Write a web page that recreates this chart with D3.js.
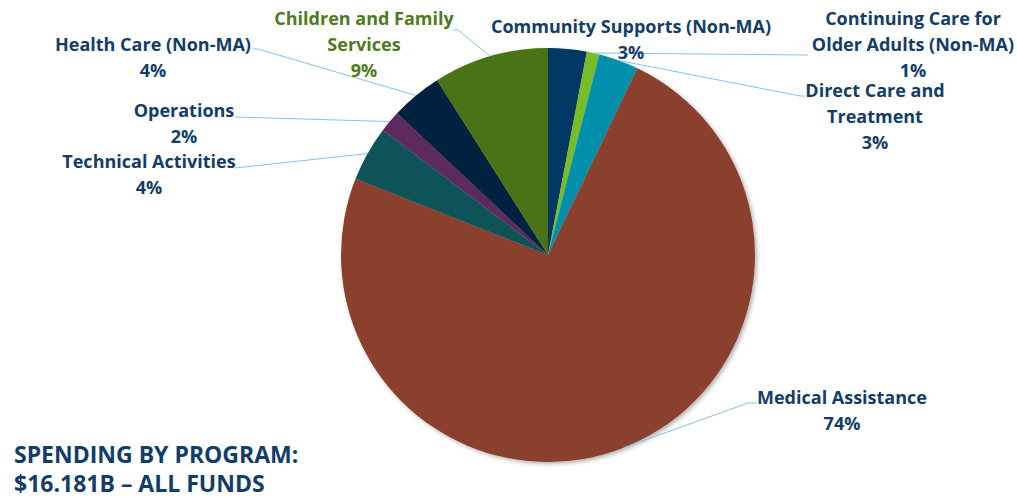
<!DOCTYPE html>
<html>
<head>
<meta charset="utf-8">
<script src="https://cdn.jsdelivr.net/npm/d3@7"></script>
<style>
  body { margin: 0; background: #fff; }
  text { font-family: "Open Sans", "Lato", sans-serif; font-weight: bold; }
</style>
</head>
<body>
<div id="chart"></div>
<script>
var width  = 1017;
var height = 500;

// data, clockwise from 12 o'clock
var programs = ["Community Supports (Non-MA)", "Continuing Care for Older Adults (Non-MA)",
                "Direct Care and Treatment", "Medical Assistance", "Technical Activities",
                "Operations", "Health Care (Non-MA)", "Children and Family Services"];
var shares   = [3.0, 1.0, 3.1, 73.9, 4.3, 1.7, 4.0, 9.0];
var pctText  = ["3%", "1%", "3%", "74%", "4%", "2%", "4%", "9%"];
var sliceColors = ["#003763", "#78bc2a", "#0090ab", "#8b3f2e", "#0e5358", "#5b2a5b", "#00223f", "#4a7316"];

// label layout: text lines, centre x, first baseline, leader start at label
var labelLayout = [
  { lines: ["Community Supports (Non-MA)", "3%"], x: 631, y: 33, lead: null },
  { lines: ["Continuing Care for", "Older Adults (Non-MA)", "1%"], x: 913, y: 25, lead: [[808, 55]] },
  { lines: ["Direct Care and", "Treatment", "3%"], x: 875, y: 97, lead: [[805, 96], [800, 96]] },
  { lines: ["Medical Assistance", "74%"], x: 842, y: 404, lead: [[757, 403], [748, 403]] },
  { lines: ["Technical Activities", "4%"], x: 149, y: 168, lead: [[235, 168]] },
  { lines: ["Operations", "2%"], x: 184, y: 117, lead: [[235, 117]] },
  { lines: ["Health Care (Non-MA)", "4%"], x: 153, y: 51, lead: [[253, 49], [258, 49]] },
  { lines: ["Children and Family", "Services", "9%"], x: 364, y: 25, lead: [[453, 30], [458, 30]] }
];

var cx = 548, cy = 255, radius = 207;

var svg = d3.select("#chart")
  .append("svg")
    .attr("width", width)
    .attr("height", height);

var defs = svg.append("defs");
var filt = defs.append("filter").attr("id", "shadow")
  .attr("x", "-10%").attr("y", "-10%").attr("width", "120%").attr("height", "120%");
filt.append("feDropShadow")
  .attr("dx", 2).attr("dy", 2).attr("stdDeviation", 2)
  .attr("flood-color", "#000").attr("flood-opacity", 0.3);

var pie = d3.pie().sort(null).value(function(d){ return d; });
var arcs = pie(shares);

var arc = d3.arc().innerRadius(0).outerRadius(radius);

var g = svg.append("g").attr("transform", "translate(" + cx + "," + cy + ")");

g.append("g").attr("filter", "url(#shadow)")
  .selectAll("path")
  .data(arcs)
  .enter()
  .append("path")
    .attr("d", arc)
    .attr("fill", function(d, i){ return sliceColors[i]; });

// leader lines
var line = d3.line();
arcs.forEach(function(a, i) {
  var L = labelLayout[i];
  if (!L.lead) return;
  var mid = (a.startAngle + a.endAngle) / 2;
  var edge = [cx + radius * Math.sin(mid), cy - radius * Math.cos(mid)];
  var pts = L.lead.concat([edge]);
  svg.append("path")
    .attr("d", line(pts))
    .attr("fill", "none")
    .attr("stroke", "#86c2f0")
    .attr("stroke-width", 1);
});

// labels
labelLayout.forEach(function(L, i) {
  var t = svg.append("text")
    .attr("text-anchor", "middle")
    .attr("font-size", 18)
    .attr("fill", i == 7 ? "#4e7a1e" : "#123d69");
  L.lines.forEach(function(s, k) {
    t.append("tspan")
      .attr("x", L.x)
      .attr("y", L.y + k * 26)
      .text(k == L.lines.length - 1 ? pctText[i] : s);
  });
});

// title
var title = svg.append("text")
  .attr("x", 14)
  .attr("font-size", 23)
  .attr("fill", "#123d69");
title.append("tspan").attr("x", 14).attr("y", 463).text("SPENDING BY PROGRAM:");
title.append("tspan").attr("x", 14).attr("y", 492).text("$16.181B \u2013 ALL FUNDS");
</script>
</body>
</html>
